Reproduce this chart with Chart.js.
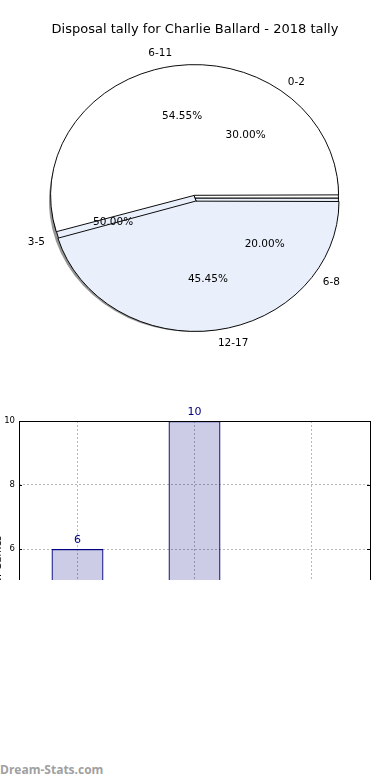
<!DOCTYPE html>
<html><head><meta charset="utf-8">
<script src="https://cdn.jsdelivr.net/npm/chart.js@4.4.1/dist/chart.umd.min.js"></script>
<style>
html,body{margin:0;padding:0;background:#fff;width:390px;height:780px;overflow:hidden;}
#pieWrap{position:absolute;left:0;top:0;width:390px;height:360px;}
#pieWrap canvas{position:absolute;left:0;top:0;}
#barWrap{position:absolute;left:0;top:400px;width:390px;height:180px;overflow:hidden;}
#wm{position:absolute;left:0;top:761px;font:bold 12px "Open Sans",sans-serif;color:#a0a0a0;line-height:18px;}
</style></head><body>
<div id="pieWrap"><canvas id="pieInner" width="390" height="360"></canvas><canvas id="pieOuter" width="390" height="360"></canvas></div>
<div id="barWrap"><canvas id="bar" width="390" height="360"></canvas></div>
<div id="wm">Dream-Stats.com</div>
<script>
// ---- data ----
const titleText = 'Disposal tally for Charlie Ballard - 2018 tally';
const outerLabels = ['6-11', '12-17'];
const outerValues = [6, 5];
const innerLabels = ['0-2', '3-5', '6-8'];
const innerValues = [3, 5, 2];
const barLabels = ['0-9', '10-19', '20-29'];
const barValues = [6, 10, 3];
const barAxisTitle = 'Number of Games';

Chart.defaults.font.family = 'DejaVu Sans';
Chart.defaults.color = '#000';

const K = 128 / 141; // vertical squash of the pie
const WHITE = '#ffffff', BLUE = '#eaf0fb';

function arcDisp(a) {
  const off = (a.options.offset || 0) / 4;
  const c = a.endAngle - a.startAngle;
  const fix = 1 - Math.sin(Math.min(Math.PI, c));
  return off * (1 + fix);
}

function drawPieLabels(chart, ctx) {
  const a = chart.chartArea;
  const cy = (a.top + a.bottom) / 2;
  const vals = chart.data.datasets[0].data;
  const total = vals.reduce((s, v) => s + v, 0);
  ctx.save();
  ctx.fillStyle = '#000';
  ctx.font = '10.5px "DejaVu Sans"';
  ctx.textBaseline = 'middle';
  chart.getDatasetMeta(0).data.forEach((el, i) => {
    const mid = (el.startAngle + el.endAngle) / 2;
    const d = arcDisp(el);
    const bx = el.x + Math.cos(mid) * d, by = el.y + Math.sin(mid) * d;
    const r = el.outerRadius;
    const lx = bx + Math.cos(mid) * r * 1.1;
    const ly = cy + (by + Math.sin(mid) * r * 1.1 - cy) * K;
    ctx.textAlign = Math.cos(mid) >= 0 ? 'left' : 'right';
    ctx.fillText(chart.data.labels[i], lx, ly);
    const px = bx + Math.cos(mid) * r * 0.6;
    const py = cy + (by + Math.sin(mid) * r * 0.6 - cy) * K;
    ctx.textAlign = 'center';
    ctx.fillText((vals[i] / total * 100).toFixed(2) + '%', px, py);
  });
  ctx.restore();
}

let innerChart = null;

const pieSquash = {
  id: 'pieSquash',
  beforeDatasetsDraw(chart, args, opts) {
    const a = chart.chartArea, ctx = chart.ctx;
    const cx = (a.left + a.right) / 2, cy = (a.top + a.bottom) / 2;
    ctx.save();
    ctx.translate(cx, cy); ctx.scale(1, K); ctx.translate(-cx, -cy);
    if (opts.shadow) {
      ctx.save();
      ctx.fillStyle = 'rgba(0,0,0,0.42)';
      chart.getDatasetMeta(0).data.forEach(el => {
        ctx.beginPath();
        ctx.moveTo(el.x - 2, el.y + 3.5);
        ctx.arc(el.x - 2, el.y + 3.5, el.outerRadius + 0.5, el.startAngle, el.endAngle);
        ctx.closePath();
        ctx.fill();
      });
      ctx.restore();
    }
  },
  afterDatasetsDraw(chart, args, opts) {
    const ctx = chart.ctx;
    ctx.restore();
    if (opts.labels) {
      if (innerChart) drawPieLabels(innerChart, ctx);
      drawPieLabels(chart, ctx);
    }
  }
};

const rev = arr => arr.slice().reverse();

// inner pie (drawn underneath)
innerChart = new Chart(document.getElementById('pieInner'), {
  type: 'pie',
  data: {
    labels: rev(innerLabels),
    datasets: [{ data: rev(innerValues), backgroundColor: [BLUE, BLUE, WHITE], borderColor: '#000', borderWidth: 1, hoverOffset: 0 }]
  },
  options: {
    responsive: false, animation: false, events: [], rotation: 90,
    layout: { padding: { left: 51, right: 51, top: 54, bottom: 18 } },
    plugins: { legend: { display: false }, tooltip: { enabled: false }, title: { display: false }, pieSquash: { shadow: true, labels: false } }
  },
  plugins: [pieSquash]
});

// outer pie (drawn on top, exploded) - also draws all pie texts
new Chart(document.getElementById('pieOuter'), {
  type: 'pie',
  data: {
    labels: rev(outerLabels),
    datasets: [{ data: rev(outerValues), backgroundColor: [BLUE, WHITE], borderColor: '#000', borderWidth: 1, offset: [14, 12], hoverOffset: 0 }]
  },
  options: {
    responsive: false, animation: false, events: [], rotation: 90,
    layout: { padding: { left: 46.5, right: 46.5, top: 0, bottom: 13.5 } },
    plugins: {
      legend: { display: false }, tooltip: { enabled: false },
      title: { display: true, text: titleText, color: '#000', font: { size: 13, weight: 'normal', lineHeight: 1.2 }, padding: { top: 22, bottom: 11.9 } },
      pieSquash: { shadow: false, labels: true }
    }
  },
  plugins: [pieSquash]
});

// bar chart
const framePlugin = {
  id: 'frame',
  afterDraw(chart) {
    const a = chart.chartArea, ctx = chart.ctx;
    ctx.save();
    ctx.strokeStyle = '#000'; ctx.lineWidth = 1;
    ctx.strokeRect(Math.round(a.left) + 0.5, Math.round(a.top) + 0.5, Math.round(a.right - a.left), Math.round(a.bottom - a.top));
    const y = chart.scales.y;
    y.ticks.forEach(t => {
      const py = Math.round(y.getPixelForValue(t.value)) + 0.5;
      ctx.beginPath();
      ctx.moveTo(a.left, py); ctx.lineTo(a.left + 3, py);
      ctx.moveTo(a.right, py); ctx.lineTo(a.right - 3, py);
      ctx.stroke();
    });
    ctx.restore();
  }
};
const barValuePlugin = {
  id: 'barValues',
  afterDatasetsDraw(chart) {
    const ctx = chart.ctx;
    ctx.save();
    ctx.fillStyle = '#000080';
    ctx.font = '11px "DejaVu Sans"';
    ctx.textAlign = 'center'; ctx.textBaseline = 'bottom';
    chart.getDatasetMeta(0).data.forEach((b, i) => {
      ctx.fillText(String(chart.data.datasets[0].data[i]), b.x, b.y - 3);
    });
    ctx.restore();
  }
};
new Chart(document.getElementById('bar'), {
  type: 'bar',
  data: {
    labels: barLabels,
    datasets: [{ data: barValues, backgroundColor: 'rgba(0,0,128,0.2)', borderColor: '#000080', borderWidth: 1.2, barPercentage: 0.444, categoryPercentage: 1 }]
  },
  options: {
    responsive: false, animation: false, events: [],
    layout: { padding: { top: 21, right: 20, left: 0, bottom: 0 } },
    plugins: { legend: { display: false }, tooltip: { enabled: false } },
    scales: {
      x: {
        grid: { offset: false, color: '#b8b8b8', drawTicks: false },
        border: { display: false, dash: [2, 2] },
        ticks: { font: { size: 8 }, color: '#000', padding: 4 },
        afterFit(s) { s.height = 19; }
      },
      y: {
        min: 0, max: 10,
        ticks: { stepSize: 2, font: { size: 8.5 }, color: '#000', padding: 4 },
        grid: { color: '#b8b8b8', drawTicks: false },
        border: { display: false, dash: [2, 2] },
        title: { display: true, text: barAxisTitle, color: '#000', font: { size: 10 }, padding: { top: -8, bottom: 0 } },
        afterFit(s) { s.width = 19; }
      }
    }
  },
  plugins: [framePlugin, barValuePlugin]
});
</script>
</body></html>
